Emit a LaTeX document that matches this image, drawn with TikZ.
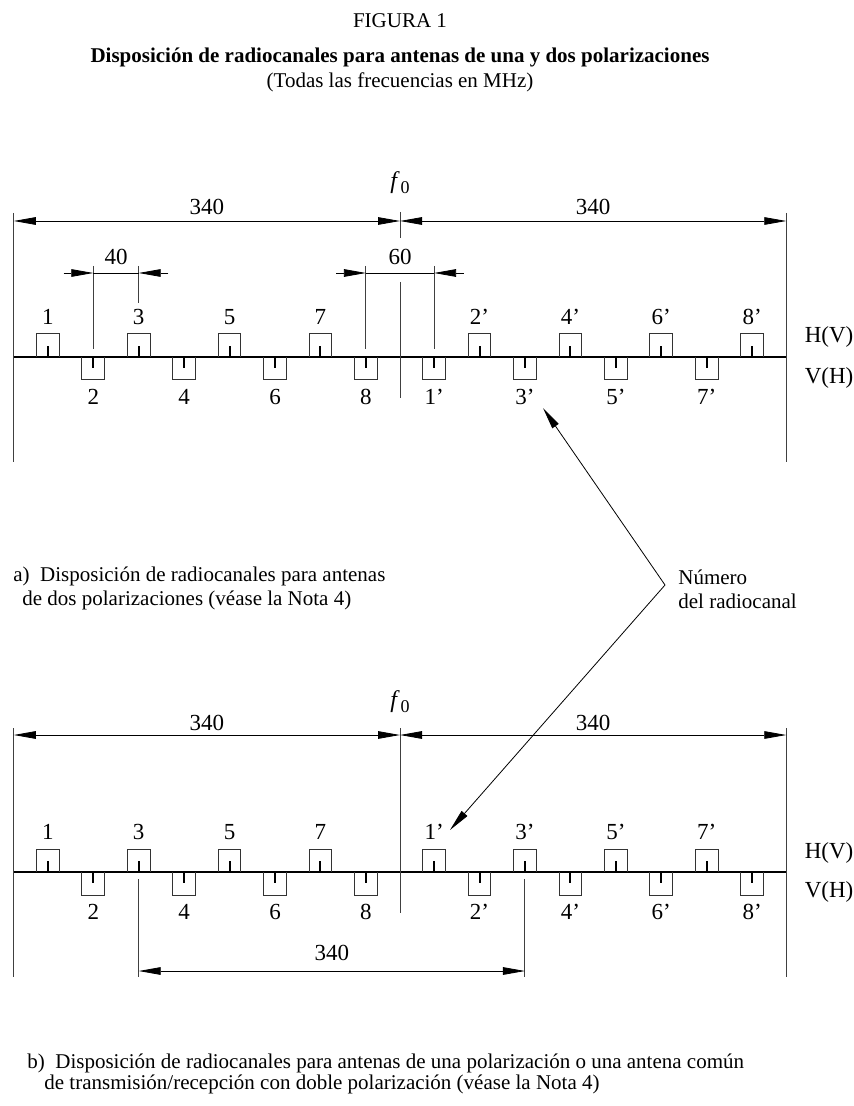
\documentclass[tikz,border=0pt]{standalone}
\usepackage{fontspec}
\setmainfont{Liberation Serif}
\usetikzlibrary{arrows.meta}

\tikzset{
  txt/.style={font=\fontsize{10.5}{12.6}\selectfont, inner sep=0pt},
  lbl/.style={font=\fontsize{11.5}{13.8}\selectfont, inner sep=0pt},
  dim/.style={line width=0.4pt, {Triangle[length=11pt,width=3.8pt]}-{Triangle[length=11pt,width=3.8pt]}},
  tip/.style={line width=0.4pt, -{Triangle[length=11pt,width=3.8pt]}},
  guide/.style={line width=0.5pt, black!75},
  band/.style={line width=1pt},
  chan/.style={line width=0.5pt, black!80},
  chtick/.style={line width=1pt},
}
\newcommand{\fzero}{\textit{f}\kern0.5pt{\fontsize{9}{10}\selectfont\raisebox{-0.5ex}{0}}}

\begin{document}
\begin{tikzpicture}[x=0.5pt,y=-0.5pt]
    \useasboundingbox (0,0) rectangle (853,1106);
    \node[txt] (fig) at (400,21) {FIGURA 1};
    \node[txt,font=\fontsize{10.5}{12.6}\selectfont\bfseries] (title) at (400,57) {Disposición de radiocanales para antenas de una y dos polarizaciones};
    \node[txt] (units) at (400,82) {(Todas las frecuencias en MHz)};

    % a) two polarizations
    \begin{scope}[shift={(400,357)},x=0.568pt]
    \draw[guide] (-340,-144) -- (-340,105);
    \draw[guide] (340,-144) -- (340,105);
    \draw[band] (-340,0) -- (340,0);
    \draw[guide] (0,-145) -- (0,-119);
    \draw[guide] (0,-75) -- (0,41);
    \node[lbl,font=\fontsize{12}{14}\selectfont] (f0a) at (0,-174) {\fzero};
    \draw[dim] (-340,-136) -- (0,-136);
    \draw[dim] (0,-136) -- (340,-136);
    \node[lbl] (la) at (-170,-150) {340};
    \node[lbl] (ra) at (170,-150) {340};
    % 40 and 60
    \draw[guide] (-270,-91) -- (-270,-8);
    \draw[guide] (-230,-91) -- (-230,-54);
    \draw[tip] (-296,-84) -- (-270,-84);
    \draw[tip] (-204,-84) -- (-230,-84);
    \draw[line width=0.4pt] (-270,-84) -- (-230,-84);
    \node[lbl] (sa) at (-250,-100) {40};
    \draw[guide] (-30,-91) -- (-30,-8);
    \draw[guide] (30,-91) -- (30,-8);
    \draw[tip] (-56,-84) -- (-30,-84);
    \draw[tip] (56,-84) -- (30,-84);
    \draw[line width=0.4pt] (-30,-84) -- (30,-84);
    \node[lbl] (ga) at (0,-100) {60};
    \foreach \c/\l [count=\i] in {-310/1,-230/3,-150/5,-70/7,70/2’,150/4’,230/6’,310/8’} {
      \draw[chan] (\c-10,0) |- (\c+10,-23) -- (\c+10,0);
      \draw[chtick] (\c,0) -- (\c,-11);
      \node[lbl] (ua\i) at (\c,-40) {\l};
    }
    \foreach \c/\l [count=\i] in {-270/2,-190/4,-110/6,-30/8,30/1’,110/3’,190/5’,270/7’} {
      \draw[chan] (\c-10,0) |- (\c+10,23) -- (\c+10,0);
      \draw[chtick] (\c,0) -- (\c,11);
      \node[lbl] (da\i) at (\c,40) {\l};
    }
    \node[lbl,anchor=west] (hva) at (356,-20) {H(V)};
    \node[lbl,anchor=west] (vha) at (356,21) {V(H)};
    \end{scope}

    \node[txt,anchor=west] (capa) at (13,576) {a)\enspace Disposición de radiocanales para antenas};
    \node[txt,anchor=west] (capa2) at (22,600) {de dos polarizaciones (véase la Nota 4)};

    % channel number pointer
    \coordinate (num) at (665,585);
    \coordinate (tipa) at (543,408);
    \coordinate (tipb) at (450,830);
    \draw[tip] (num) -- (tipa);
    \draw[tip] (num) -- (tipb);
    \node[txt,anchor=west] (numtxt) at (678,577) {Número};
    \node[txt,anchor=west] (numtxt2) at (678,601) {del radiocanal};

    % b) one polarization
    \begin{scope}[shift={(400,872)},x=0.568pt]
    \draw[guide] (-340,-144) -- (-340,105);
    \draw[guide] (340,-144) -- (340,105);
    \draw[band] (-340,0) -- (340,0);
    \draw[guide] (0,-144) -- (0,41);
    \node[lbl,font=\fontsize{12}{14}\selectfont] (f0b) at (0,-170) {\fzero};
    \draw[dim] (-340,-137) -- (0,-137);
    \draw[dim] (0,-137) -- (340,-137);
    \node[lbl] (lb) at (-170,-149) {340};
    \node[lbl] (rb) at (170,-149) {340};
    \foreach \c/\l [count=\i] in {-310/1,-230/3,-150/5,-70/7,30/1’,110/3’,190/5’,270/7’} {
      \draw[chan] (\c-10,0) |- (\c+10,-23) -- (\c+10,0);
      \draw[chtick] (\c,0) -- (\c,-11);
      \node[lbl] (ub\i) at (\c,-40) {\l};
    }
    \foreach \c/\l [count=\i] in {-270/2,-190/4,-110/6,-30/8,70/2’,150/4’,230/6’,310/8’} {
      \draw[chan] (\c-10,0) |- (\c+10,23) -- (\c+10,0);
      \draw[chtick] (\c,0) -- (\c,11);
      \node[lbl] (db\i) at (\c,40) {\l};
    }
    \draw[guide] (-230,7) -- (-230,105);
    \draw[guide] (110,7) -- (110,105);
    \draw[dim] (-230,99) -- (110,99);
    \node[lbl] (tb) at (-60,81) {340};
    \node[lbl,anchor=west] (hvb) at (356,-19) {H(V)};
    \node[lbl,anchor=west] (vhb) at (356,20) {V(H)};
    \end{scope}

    \node[txt,anchor=west] (capb) at (27,1063) {b)\enspace Disposición de radiocanales para antenas de una polarización o una antena común};
    \node[txt,anchor=west] (capb2) at (44,1084) {de transmisión/recepción con doble polarización (véase la Nota 4)};
\end{tikzpicture}
\end{document}
